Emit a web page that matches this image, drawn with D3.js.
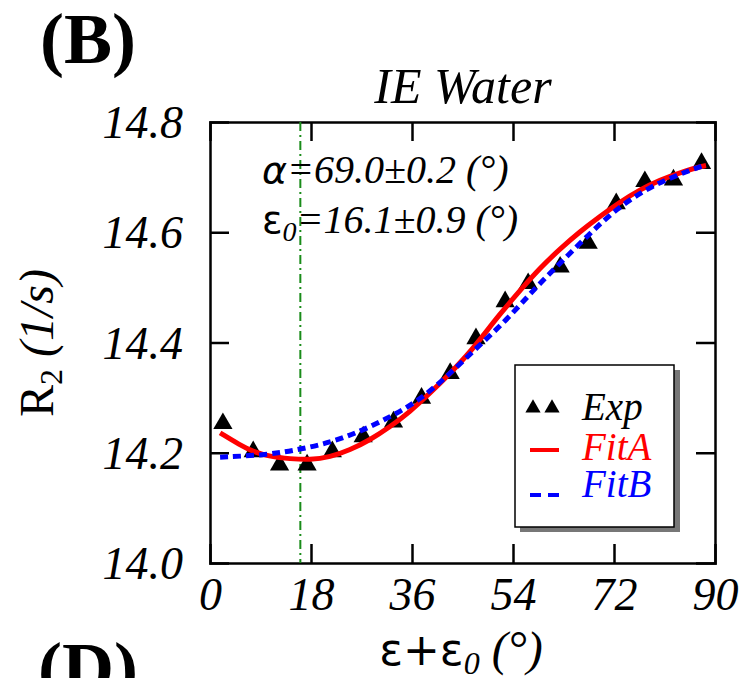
<!DOCTYPE html>
<html>
<head>
<meta charset="utf-8">
<script src="https://cdn.jsdelivr.net/npm/d3@7"></script>
<style>
  html, body { margin: 0; padding: 0; background: #fff; }
  svg { display: block; }
  text { font-family: "Liberation Serif", "Times New Roman", serif; }
</style>
</head>
<body>
<svg id="chart" width="745" height="678"></svg>
<script>
// ---- data ----
const xTicks = [0, 18, 36, 54, 72, 90];
const yTicks = [14.0, 14.2, 14.4, 14.6, 14.8];

const expX = [2.3, 7.7, 12.4, 17.3, 21.8, 27.3, 32.7, 37.7, 42.8, 47.4, 52.6, 56.7, 62.4, 67.4, 72.4, 77.5, 82.6, 87.6];
const expY = [14.253, 14.202, 14.178, 14.178, 14.202, 14.229, 14.256, 14.299, 14.344, 14.407, 14.474, 14.507, 14.537, 14.580, 14.652, 14.692, 14.695, 14.725];

const fitAX = [1.8, 5.35, 7.66, 10.7, 14.3, 17.8, 21.4, 24.95, 28.5, 32.1, 35.6, 39.2, 42.8, 45.75, 48.1, 51.7, 55.3, 58.8, 62.4, 65.9, 69.5, 73.1, 76.6, 80.2, 83.8, 87.3, 88.4];
const fitAY = [14.236, 14.214, 14.202, 14.193, 14.189, 14.187, 14.192, 14.205, 14.223, 14.247, 14.274, 14.308, 14.344, 14.376, 14.405, 14.452, 14.495, 14.535, 14.570, 14.601, 14.629, 14.655, 14.677, 14.695, 14.708, 14.719, 14.721];

const fitBX = [1.8, 10.1, 16.0, 22.0, 27.3, 32.7, 37.4, 42.2, 47.5, 52.9, 57.6, 62.4, 67.7, 72.5, 77.8, 82.6, 87.3, 88.4];
const fitBY = [14.192, 14.196, 14.206, 14.220, 14.241, 14.268, 14.296, 14.338, 14.390, 14.441, 14.495, 14.544, 14.598, 14.643, 14.679, 14.701, 14.719, 14.722];

const eps0 = 16.1;
const legendLabels = ["Exp", "FitA", "FitB"];

// ---- layout ----
const svg = d3.select("#chart");
const L = 210, R = 715, T = 122, B = 563;
const x = d3.scaleLinear().domain([0, 90]).range([L, R]);
const y = d3.scaleLinear().domain([14.0, 14.8]).range([B, T]);

const fnt = "Liberation Serif";

// panel letters
svg.append("text").attr("x", 40).attr("y", 63).attr("font-size", 72).attr("font-weight", "bold").text("(B)");
svg.append("text").attr("x", 38).attr("y", 692).attr("font-size", 72).attr("font-weight", "bold").text("(D)");

// title
svg.append("text").attr("x", 463).attr("y", 103).attr("text-anchor", "middle")
  .attr("font-size", 50).attr("font-style", "italic").text("IE Water");

// axes with inward ticks on all four sides
const tickLen = 19;
const gB = svg.append("g").attr("transform", `translate(0,${B})`)
  .call(d3.axisBottom(x).tickValues(xTicks).tickSize(-tickLen).tickPadding(14).tickFormat(d3.format("d")));
const gT = svg.append("g").attr("transform", `translate(0,${T})`)
  .call(d3.axisTop(x).tickValues(xTicks).tickSize(-tickLen).tickFormat(""));
const gL = svg.append("g").attr("transform", `translate(${L},0)`)
  .call(d3.axisLeft(y).tickValues(yTicks).tickSize(-tickLen).tickPadding(27).tickFormat(d3.format(".1f")));
const gR = svg.append("g").attr("transform", `translate(${R},0)`)
  .call(d3.axisRight(y).tickValues(yTicks).tickSize(-tickLen).tickFormat(""));

[gB, gT, gL, gR].forEach(g => {
  g.select(".domain").attr("stroke", "#000").attr("stroke-width", 2.5);
  g.selectAll(".tick line").attr("stroke", "#000").attr("stroke-width", 2.5);
  g.selectAll(".tick text").attr("font-family", fnt).attr("font-style", "italic").attr("font-size", 46).attr("fill", "#000");
});
gB.selectAll(".tick text").attr("dy", "0.71em");
gL.selectAll(".tick text").attr("dy", "0.34em");
// hide ticks at the frame corners
gB.selectAll(".tick line").filter(d => d === 0 || d === 90).remove();
gT.selectAll(".tick line").filter(d => d === 0 || d === 90).remove();
gL.selectAll(".tick line").filter(d => d === 14.0 || d === 14.8).remove();
gR.selectAll(".tick line").filter(d => d === 14.0 || d === 14.8).remove();

// axis labels
const yl = svg.append("text").attr("transform", `translate(53,343) rotate(-90)`)
  .attr("text-anchor", "middle").attr("font-size", 48);
yl.append("tspan").text("R");
yl.append("tspan").attr("font-size", 32).attr("dy", 9).text("2");
yl.append("tspan").attr("dy", -9).attr("font-style", "italic").text(" (1/s)");

const xl = svg.append("text").attr("x", 461).attr("y", 665).attr("text-anchor", "middle").attr("font-size", 48);
xl.append("tspan").attr("font-family", "DejaVu Sans").attr("font-size", 44).text("ε+ε");
xl.append("tspan").attr("font-style", "italic").attr("font-size", 32).attr("dy", 9).text("0");
xl.append("tspan").attr("font-style", "italic").attr("dy", -9).text(" (°)");

// vertical dash-dot line at eps0
svg.append("line").attr("x1", x(eps0)).attr("x2", x(eps0)).attr("y1", T).attr("y2", B)
  .attr("stroke", "#1a8c1a").attr("stroke-width", 2).attr("stroke-dasharray", "9,4,2,4");

// annotations
const a1 = svg.append("text").attr("x", 262).attr("y", 183).attr("font-size", 40).attr("font-style", "italic");
a1.append("tspan").attr("font-family", "DejaVu Sans").attr("font-size", 38).text("α");
a1.append("tspan").text("=69.0±0.2 (°)");
const a2 = svg.append("text").attr("x", 262).attr("y", 233).attr("font-size", 40).attr("font-style", "italic");
a2.append("tspan").attr("font-family", "DejaVu Sans").attr("font-style", "normal").attr("font-size", 38).text("ε");
a2.append("tspan").attr("font-size", 28).attr("dy", 8).text("0");
a2.append("tspan").attr("dy", -8).text("=16.1±0.9 (°)");

// data
const tri = d3.symbol().type(d3.symbolTriangle).size(160);
svg.append("g").selectAll("path").data(expX.map((v, i) => [v, expY[i]])).join("path")
  .attr("d", tri).attr("transform", d => `translate(${x(d[0])},${y(d[1])})`).attr("fill", "#000");

const line = d3.line().x(d => x(d[0])).y(d => y(d[1])).curve(d3.curveBasis);
svg.append("path").datum(fitAX.map((v, i) => [v, fitAY[i]])).attr("d", line)
  .attr("fill", "none").attr("stroke", "#ff0000").attr("stroke-width", 5);
svg.append("path").datum(fitBX.map((v, i) => [v, fitBY[i]])).attr("d", line)
  .attr("fill", "none").attr("stroke", "#0000ff").attr("stroke-width", 5).attr("stroke-dasharray", "8,5");

// legend
const lg = svg.append("g");
lg.append("rect").attr("x", 520).attr("y", 370).attr("width", 160).attr("height", 162).attr("fill", "#777");
lg.append("rect").attr("x", 515).attr("y", 365).attr("width", 159).attr("height", 162).attr("fill", "#fff")
  .attr("stroke", "#000").attr("stroke-width", 1.5);
const tri2 = d3.symbol().type(d3.symbolTriangle).size(100);
[533, 552].forEach(cx => lg.append("path").attr("d", tri2).attr("transform", `translate(${cx},408)`).attr("fill", "#000"));
lg.append("line").attr("x1", 530).attr("x2", 559).attr("y1", 450).attr("y2", 450).attr("stroke", "#ff0000").attr("stroke-width", 4);
lg.append("line").attr("x1", 530).attr("x2", 559).attr("y1", 495).attr("y2", 495).attr("stroke", "#0000ff").attr("stroke-width", 4).attr("stroke-dasharray", "11,7");
const lgColors = ["#000", "#ff0000", "#0000ff"];
const lgY = [420, 460, 497];
legendLabels.forEach((t, i) => lg.append("text").attr("x", 582).attr("y", lgY[i]).attr("font-size", 39)
  .attr("font-style", "italic").attr("fill", lgColors[i]).text(t));
</script>
</body>
</html>
